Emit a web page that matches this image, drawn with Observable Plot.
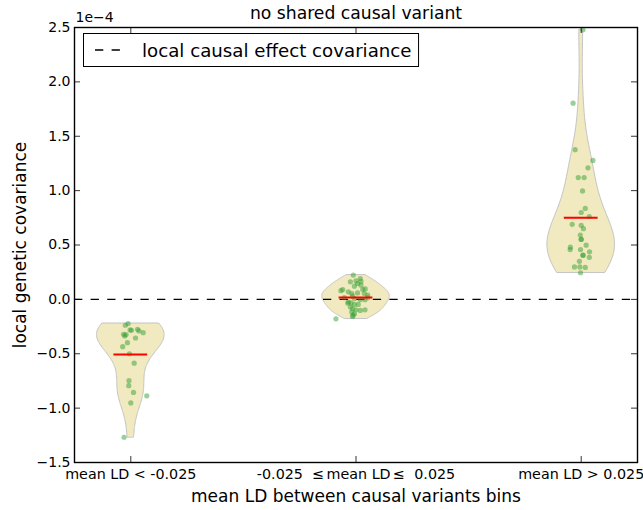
<!DOCTYPE html>
<html><head><meta charset="utf-8">
<script src="https://cdn.jsdelivr.net/npm/d3@7"></script>
<script src="https://cdn.jsdelivr.net/npm/@observablehq/plot@0.6"></script>
<style>body{margin:0;background:#fff} svg{font-family:"DejaVu Sans",sans-serif}</style>
</head><body><div id="chart"></div>
<script>
// ---- data (covariance values in units of 1e-4) ----
const categories = ["mean LD < -0.025", "-0.025 \u2004\u2264\u2006mean LD\u2006\u2264\u2004 0.025", "mean LD > 0.025"];
const positions = [1, 2, 3];
const yTicks = [-1.5, -1.0, -0.5, 0.0, 0.5, 1.0, 1.5, 2.0, 2.5];
const causalEffectCov = 0; // local causal effect covariance

const covLow = [-0.222, -0.238, -0.281, -0.284, -0.275, -0.290, -0.306, -0.321, -0.324, -0.337, -0.355,
  -0.398, -0.435, -0.500, -0.587, -0.748, -0.794, -0.856, -0.887, -0.952, -1.268];
const jitLow = [-0.012, -0.024, -0.003, 0.003, 0.030, 0.036, 0.055, -0.032, -0.021, -0.027, 0.021,
  -0.015, -0.036, -0.006, 0.015, -0.008, -0.009, 0.012, 0.071, 0.000, -0.030];

const covMid = [0.223, 0.192, 0.171, 0.161, 0.146, 0.131, 0.121, 0.090, 0.096, 0.090, 0.069, 0.053, 0.059,
  0.053, 0.016, 0.029, 0.007, -0.003, -0.003, 0.016, -0.024, -0.033, -0.046, -0.046, -0.071, -0.086,
  -0.096, -0.102, -0.096, -0.117, -0.133, -0.157, -0.179, 0.080, 0.040, -0.035, -0.145, 0.165];
const jitMid = [-0.012, 0.019, 0.000, -0.025, 0.007, 0.022, -0.007, 0.030, 0.041, -0.059, -0.034, -0.019, 0.007,
  0.037, -0.052, -0.015, -0.007, 0.019, 0.040, 0.052, -0.034, -0.022, -0.007, 0.010, -0.025, -0.015,
  0.000, 0.019, 0.040, -0.019, -0.007, -0.015, -0.089, -0.067, 0.052, -0.036, -0.013, 0.022];

const covHigh = [2.479, 1.804, 1.377, 1.278, 1.210, 1.120, 1.120, 0.997, 0.836, 0.799, 0.762, 0.690, 0.681,
  0.650, 0.591, 0.551, 0.498, 0.480, 0.458, 0.458, 0.437, 0.406, 0.387, 0.350, 0.298, 0.298, 0.294, 0.245,
  0.553, 0.405];
const jitHigh = [0.008, -0.036, -0.027, 0.052, 0.030, -0.013, 0.013, 0.006, 0.018, 0.000, 0.036, -0.040, 0.000,
  0.010, -0.004, 0.000, 0.022, -0.048, -0.049, -0.003, 0.037, 0.008, 0.036, -0.008, -0.030, -0.006, 0.018, -0.003,
  0.000, 0.008];

const groups = [
  {pos: positions[0], cov: covLow, jit: jitLow},
  {pos: positions[1], cov: covMid, jit: jitMid},
  {pos: positions[2], cov: covHigh, jit: jitHigh}
];

// ---- derived tables ----
const halfWidth = 0.15;
function violin(g, gi) {
  const v = g.cov, n = v.length;
  const bw = Math.pow(n, -1 / 5) * d3.deviation(v);
  const lo = d3.min(v), hi = d3.max(v);
  const ys = d3.range(100).map(i => lo + (hi - lo) * i / 99);
  const dens = ys.map(y => d3.sum(v, d => Math.exp(-0.5 * ((y - d) / bw) ** 2)));
  const m = d3.max(dens);
  return ys.map((y, i) => ({g: gi, y, x1: g.pos - halfWidth * dens[i] / m, x2: g.pos + halfWidth * dens[i] / m}));
}
const violinData = groups.flatMap(violin);
const points = groups.flatMap((g, gi) => g.cov.map((c, i) => ({g: gi, x: g.pos + g.jit[i], y: c})));
const means = groups.map(g => ({pos: g.pos, y: d3.mean(g.cov)}));

const W = 643, H = 510, ml = 74, mr = 6, mt = 27, mb = 48;
const xDom = [0.75, 3.25], yDom = [-1.5, 2.5];
const pxX = (W - ml - mr) / (xDom[1] - xDom[0]);
const pxY = (H - mt - mb) / (yDom[1] - yDom[0]);
const tl = 6;

const chart = Plot.plot({
  width: W, height: H, marginLeft: ml, marginRight: mr, marginTop: mt, marginBottom: mb,
  x: {domain: xDom},
  y: {domain: yDom},
  style: {fontFamily: "DejaVu Sans", background: "white", color: "black"},
  marks: [
    Plot.areaX(violinData, {y: "y", x1: "x1", x2: "x2", z: "g", curve: "linear",
      fill: "#f1e9bf", stroke: "#c4c4c4", strokeWidth: 1}),
    Plot.ruleY([causalEffectCov], {stroke: "black", strokeWidth: 1.3, strokeDasharray: "8.3,8.3"}),
    Plot.dot(points, {x: "x", y: "y", r: 2.6, fill: "#33a033", fillOpacity: 0.5, stroke: "none"}),
    Plot.ruleY(means, {y: "y", x1: d => d.pos - halfWidth / 2, x2: d => d.pos + halfWidth / 2,
      stroke: "red", strokeWidth: 2}),
    // inward ticks on all four sides
    Plot.ruleY(yTicks, {y: d => d, x1: xDom[0], x2: xDom[0] + tl / pxX, stroke: "black", strokeWidth: 0.8}),
    Plot.ruleY(yTicks, {y: d => d, x1: xDom[1], x2: xDom[1] - tl / pxX, stroke: "black", strokeWidth: 0.8}),
    Plot.ruleX(positions, {x: d => d, y1: yDom[0], y2: yDom[0] + tl / pxY, stroke: "black", strokeWidth: 0.8}),
    Plot.ruleX(positions, {x: d => d, y1: yDom[1], y2: yDom[1] - tl / pxY, stroke: "black", strokeWidth: 0.8}),
    Plot.frame({stroke: "black", strokeWidth: 1.4}),
    Plot.axisY({ticks: yTicks, tickSize: 0, tickPadding: 4, tickFormat: d3.format(".1f"), fontSize: 14, label: null}),
    Plot.axisX({ticks: positions, tickSize: 0, tickPadding: 6, tickFormat: d => categories[d - 1], fontSize: 14.3, label: null}),
    Plot.text(["no shared causal variant"], {frameAnchor: "top", lineAnchor: "bottom", dy: -9, fontSize: 17.2}),
    Plot.text(["1e\u22124"], {frameAnchor: "top-left", textAnchor: "start", lineAnchor: "bottom", dy: -6, dx: 1, fontSize: 14}),
    Plot.text(["local genetic covariance"], {frameAnchor: "left", textAnchor: "middle", rotate: -90, lineAnchor: "bottom", dx: -49, fontSize: 17}),
    Plot.text(["mean LD between causal variants bins"], {frameAnchor: "bottom", lineAnchor: "bottom", dy: 39, fontSize: 17})
  ]
});
document.getElementById("chart").appendChild(chart);

// legend box (top-left of the frame)
const svg = d3.select(chart);
const lg = svg.append("g");
const rect = lg.append("rect").attr("x", 83.5).attr("y", 33.5).attr("height", 33)
  .attr("fill", "white").attr("stroke", "black").attr("stroke-width", 1);
lg.append("line").attr("x1", 95).attr("x2", 120).attr("y1", 50).attr("y2", 50)
  .attr("stroke", "black").attr("stroke-width", 1.3).attr("stroke-dasharray", "8.3,8.3");
const t = lg.append("text").attr("x", 142).attr("y", 56.5).attr("font-size", 18.2)
  .attr("text-anchor", "start").attr("fill", "black").text("local causal effect covariance");
const tw = t.node().getComputedTextLength();
rect.attr("width", 142 + tw + 7 - 83.5);
</script>
</body></html>
